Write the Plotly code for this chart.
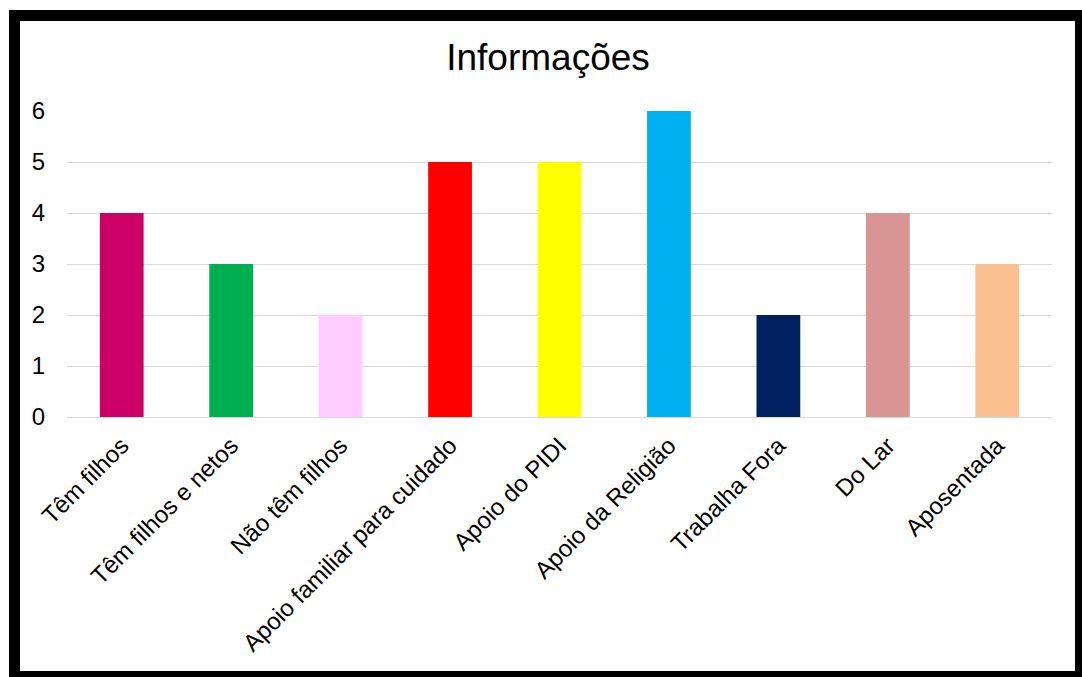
import plotly.graph_objects as go

categorias = [
    "Têm filhos",
    "Têm filhos e netos",
    "Não têm filhos",
    "Apoio familiar para cuidado",
    "Apoio do PIDI",
    "Apoio da Religião",
    "Trabalha Fora",
    "Do Lar",
    "Aposentada",
]
valores = [4, 3, 2, 5, 5, 6, 2, 4, 3]
cores = [
    "#CC0066", "#00B050", "#FFCCFF", "#FF0000", "#FFFF00",
    "#00B0F0", "#002060", "#D99594", "#FAC090",
]
y_ticks = [0, 1, 2, 3, 4, 5, 6]

W, H = 1082, 677
L, R, T, B = 67, 30, 111, 260
pw, ph = W - L - R, H - T - B


def px_x(x):
    return (x - L) / pw


def px_y(y):
    return (H - B - y) / ph


fig = go.Figure(
    go.Bar(
        x=categorias,
        y=valores,
        marker=dict(color=cores, line=dict(width=0)),
        hoverinfo="x+y",
    )
)

fig.update_layout(
    width=W,
    height=H,
    margin=dict(l=L, r=R, t=T, b=B, pad=0),
    paper_bgcolor="white",
    plot_bgcolor="white",
    bargap=0.6,
    showlegend=False,
    font=dict(family="Liberation Sans, Arial, sans-serif", color="black", size=24),
    title=dict(
        text="Informações",
        font=dict(size=37, color="black"),
        x=548 / W,
        xref="container",
        xanchor="center",
        y=(H - 57) / H,
        yref="container",
        yanchor="middle",
    ),
    xaxis=dict(
        tickangle=-45,
        showgrid=False,
        showline=False,
        zeroline=False,
        ticks="outside",
        ticklen=4,
        tickcolor="rgba(0,0,0,0)",
        tickfont=dict(size=24),
    ),
    yaxis=dict(
        range=[0, 6],
        tickvals=y_ticks,
        showgrid=True,
        gridcolor="#D9D9D9",
        gridwidth=1.3,
        zeroline=True,
        zerolinecolor="#D9D9D9",
        zerolinewidth=1.3,
        showline=False,
        ticks="outside",
        ticklen=16,
        tickcolor="rgba(0,0,0,0)",
        tickfont=dict(size=24),
    ),
    shapes=[
        dict(
            type="rect",
            xref="paper",
            yref="paper",
            x0=px_x(14.5),
            x1=px_x(1080.5),
            y0=px_y(15.5),
            y1=px_y(676.5),
            line=dict(color="black", width=11),
            fillcolor="rgba(0,0,0,0)",
            layer="above",
        )
    ],
)

fig.write_html("out.html")
